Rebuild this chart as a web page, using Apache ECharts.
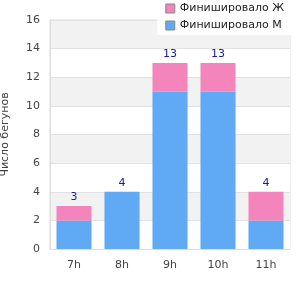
<!DOCTYPE html>
<html>
<head>
<meta charset="utf-8">
<script src="https://cdn.jsdelivr.net/npm/echarts@6/dist/echarts.min.js"></script>
<style>
  html, body { margin: 0; padding: 0; background: #fff; }
  #chart { width: 300px; height: 300px; }
</style>
</head>
<body>
<div id="chart"></div>
<script>
const hours = ['7h', '8h', '9h', '10h', '11h'];
const finishedMale = [2, 4, 11, 11, 2];
const finishedFemale = [1, 0, 2, 2, 2];
const totals = [3, 4, 13, 13, 4];
const legendNames = ['Финишировало Ж', 'Финишировало М'];

const chart = echarts.init(document.getElementById('chart'));

chart.setOption({
  animation: false,
  textStyle: { fontFamily: 'DejaVu Sans' },
  grid: {
    left: 50, right: 10, top: 20, bottom: 51,
    outerBoundsMode: 'none', containLabel: false,
    show: true, borderColor: '#ddd', backgroundColor: 'transparent',
  },
  legend: {
    orient: 'vertical',
    right: 8,
    top: 1,
    icon: 'rect',
    itemWidth: 9,
    itemHeight: 9,
    itemGap: 6,
    padding: [2, 8, 4, 8],
    backgroundColor: '#fff',
    textStyle: { fontSize: 11, color: '#222' },
    data: legendNames.map((name) => ({
      name,
      itemStyle: { borderColor: '#888', borderWidth: 1 },
    })),
  },
  xAxis: {
    type: 'category',
    data: hours,
    axisLine: { lineStyle: { color: '#ddd' } },
    axisTick: { show: false },
    axisLabel: { color: '#444', fontSize: 11, margin: 11 },
  },
  yAxis: {
    type: 'value',
    min: 0,
    max: 16,
    interval: 2,
    name: 'Число бегунов',
    nameLocation: 'middle',
    nameGap: 39,
    nameTextStyle: { color: '#444', fontSize: 11 },
    axisLine: { show: true, lineStyle: { color: '#ddd' } },
    axisLabel: { color: '#444', fontSize: 11, margin: 10 },
    splitLine: { lineStyle: { color: '#e2e2e2' } },
    splitArea: { show: true, areaStyle: { color: ['#ffffff', '#f2f2f2'] } },
  },
  series: [
    {
      name: 'Финишировало М',
      type: 'bar',
      stack: 'total',
      barCategoryGap: '27%',
      itemStyle: { color: '#5fa9f5' },
      data: finishedMale,
    },
    {
      name: 'Финишировало Ж',
      type: 'bar',
      stack: 'total',
      itemStyle: { color: '#f384bc' },
      label: {
        show: true,
        position: 'top',
        distance: 3,
        color: '#1a1aa6',
        fontSize: 11,
        formatter: (p) => totals[p.dataIndex],
      },
      data: finishedFemale,
    },
  ],
});
</script>
</body>
</html>
